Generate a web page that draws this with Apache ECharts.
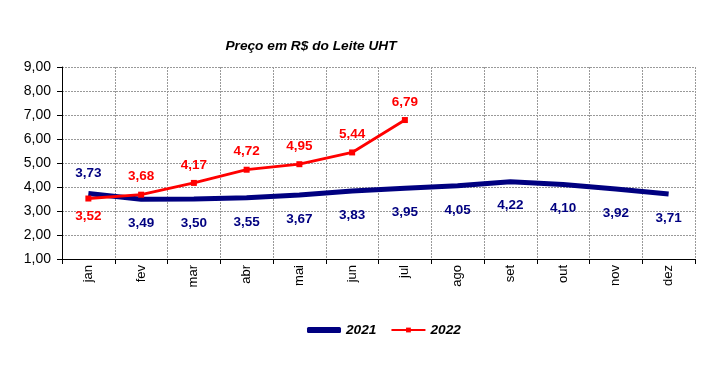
<!DOCTYPE html>
<html><head><meta charset="utf-8">
<script src="https://cdn.jsdelivr.net/npm/echarts@6/dist/echarts.min.js"></script>
<style>html,body{margin:0;padding:0;background:#fff}#c{width:721px;height:373px}</style>
</head><body><div id="c"></div>
<script>
const months = ['jan','fev','mar','abr','mai','jun','jul','ago','set','out','nov','dez'];
const s2021 = [3.73,3.49,3.50,3.55,3.67,3.83,3.95,4.05,4.22,4.10,3.92,3.71];
const s2022 = [3.52,3.68,4.17,4.72,4.95,5.44,6.79];
const yTicks = [1,2,3,4,5,6,7,8,9];
const fmt = v => v.toFixed(2).replace('.', ',');
const FONT = 'Liberation Sans, Arial, sans-serif';
const chart = echarts.init(document.getElementById('c'));
chart.setOption({
  animation: false,
  title: {text: 'Preço em R$ do Leite UHT', left: 306, top: 34, textAlign: 'center',
    textStyle: {fontFamily: FONT, fontSize: 13.7, fontWeight: 'bold', fontStyle: 'italic', color: '#000'}},
  grid: {left: 62, right: 26, top: 67, bottom: 114},
  legend: {top: 318, left: 302, itemGap: 14, itemWidth: 34, itemHeight: 6,
    textStyle: {fontFamily: FONT, fontSize: 13.7, fontWeight: 'bold', fontStyle: 'italic', color: '#000'},
    data: [{name: '2021', icon: 'roundRect'}, {name: '2022'}]},
  xAxis: {type: 'category', data: months, boundaryGap: true,
    axisLine: {lineStyle: {color: '#000', width: 1}},
    axisTick: {show: true, length: 5, lineStyle: {color: '#000'}},
    axisLabel: {rotate: 90, fontFamily: FONT, fontSize: 13, color: '#000', margin: 6},
    splitLine: {show: true, lineStyle: {color: '#999', type: [2, 1], width: 1}}},
  yAxis: {type: 'value', min: yTicks[0], max: yTicks[yTicks.length-1], interval: 1,
    axisLine: {show: true, lineStyle: {color: '#000'}},
    axisTick: {show: true, length: 5, lineStyle: {color: '#000'}},
    axisLabel: {formatter: v => fmt(v), fontFamily: FONT, fontSize: 14, color: '#000', margin: 11},
    splitLine: {show: true, lineStyle: {color: '#999', type: [2, 1], width: 1}}},
  series: [
    {name: '2021', type: 'line', symbol: 'circle', symbolSize: 0.1, showSymbol: true, z: 2,
      lineStyle: {color: '#000080', width: 5}, itemStyle: {color: '#000080'},
      labelLayout: {hideOverlap: false},
      data: s2021.map((v, i) => ({value: v, label: {position: i === 0 ? 'top' : 'bottom', distance: i === 0 ? 13 : 17}})),
      label: {show: true, formatter: p => fmt(p.value), fontFamily: FONT, fontSize: 13.5, fontWeight: 'bold', color: '#000080'}},
    {name: '2022', type: 'line', symbol: 'rect', symbolSize: 6, z: 3,
      lineStyle: {color: '#ff0000', width: 2.8}, itemStyle: {color: '#ff0000'},
      data: s2022.map((v, i) => ({value: v, label: {position: i === 0 ? 'bottom' : 'top', distance: 8}})),
      label: {show: true, formatter: p => fmt(p.value), fontFamily: FONT, fontSize: 13.5, fontWeight: 'bold', color: '#ff0000'}}
  ]
});
</script></body></html>
